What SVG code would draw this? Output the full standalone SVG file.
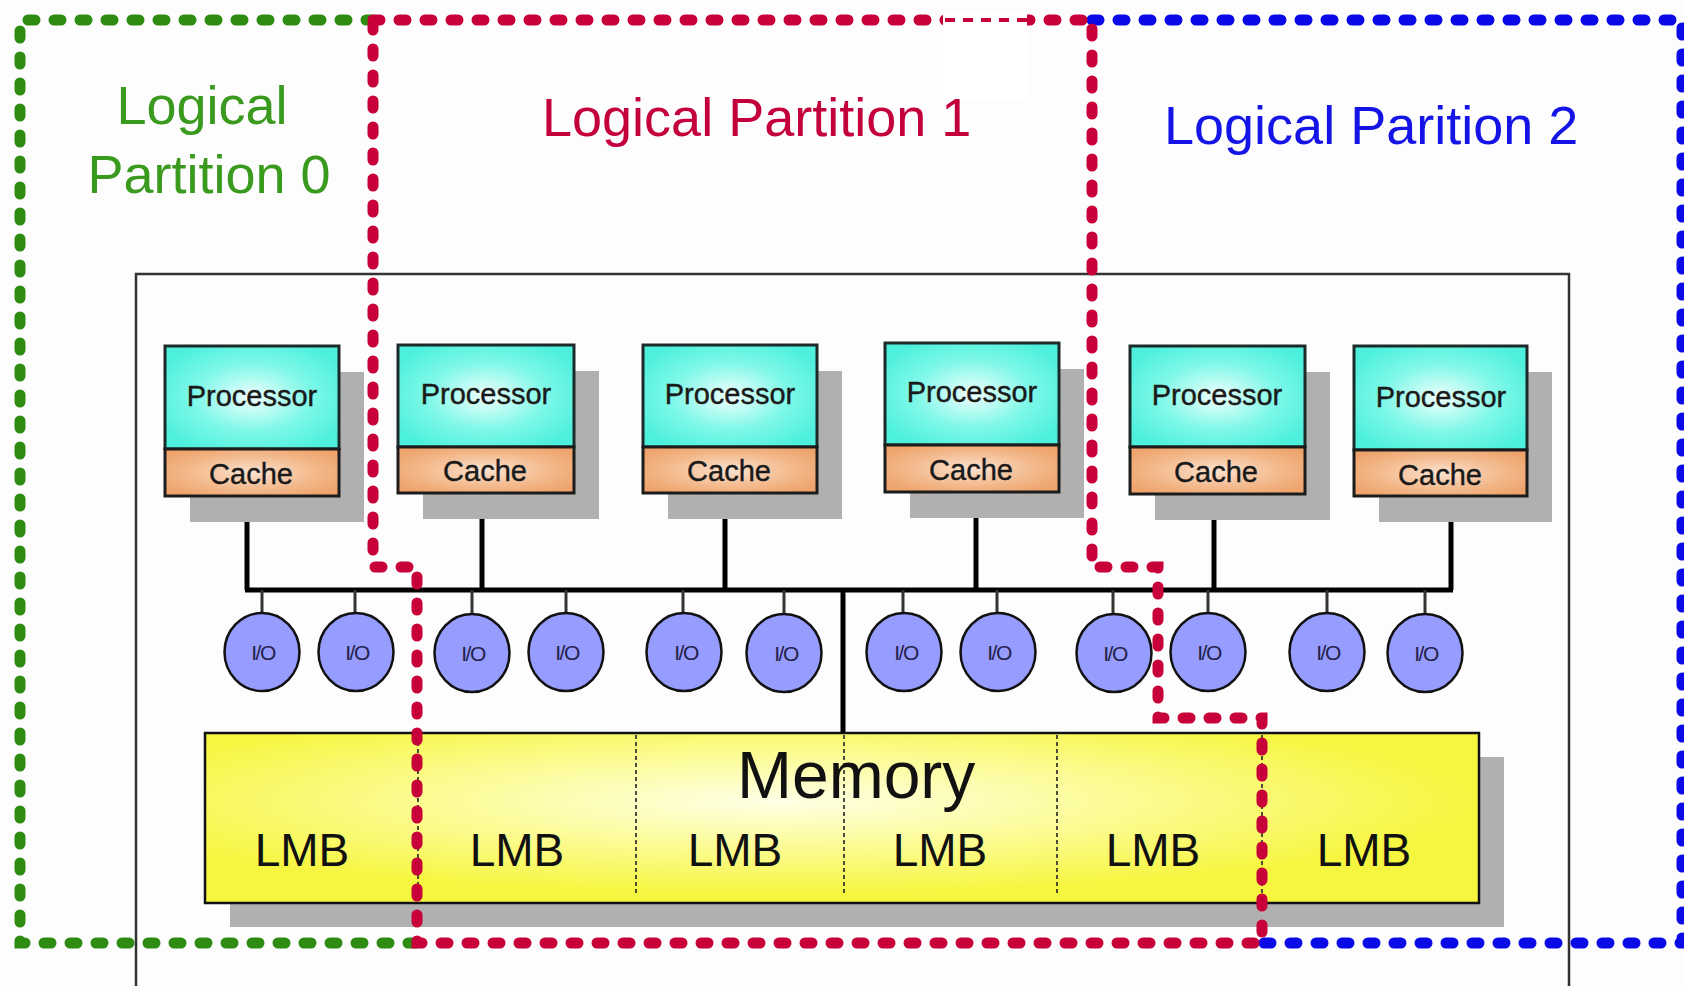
<svg xmlns="http://www.w3.org/2000/svg" width="1684" height="986" viewBox="0 0 1684 986">
<defs>
<radialGradient id="gProc" cx="0.5" cy="0.5" r="0.6">
<stop offset="0" stop-color="#f0fffc"/>
<stop offset="0.55" stop-color="#7ff8e8"/>
<stop offset="1" stop-color="#4cf0dc"/>
</radialGradient>
<radialGradient id="gCache" cx="0.5" cy="0.5" r="0.6">
<stop offset="0" stop-color="#fbe2cf"/>
<stop offset="0.6" stop-color="#f3b98c"/>
<stop offset="1" stop-color="#eea46c"/>
</radialGradient>
<radialGradient id="gMem" cx="0.45" cy="0.4" r="0.55">
<stop offset="0" stop-color="#ffffe6"/>
<stop offset="0.45" stop-color="#fcfc9c"/>
<stop offset="1" stop-color="#f6f640"/>
</radialGradient>
<style>
.sans{font-family:"Liberation Sans",Arial,"DejaVu Sans",sans-serif}
.shadow{fill:#b0b0b0}
.proc{fill:url(#gProc);stroke:#1c2a2a;stroke-width:3}
.cache{fill:url(#gCache);stroke:#1c1c1c;stroke-width:3}
.ptext{font-family:"Liberation Sans",Arial,sans-serif;font-size:29px;fill:#1a1a1a;text-anchor:middle;stroke:#1a1a1a;stroke-width:0.4}
.io{fill:#979cff;stroke:#111;stroke-width:2.5}
.iotext{font-family:"Liberation Sans",Arial,sans-serif;font-size:21px;letter-spacing:-1.5px;fill:#22224a;text-anchor:middle}
.wire{stroke:#000;stroke-width:5;fill:none}
.stub{stroke:#333;stroke-width:3;fill:none}
.lmb{font-family:"Liberation Sans",Arial,sans-serif;font-size:46px;fill:#111;text-anchor:middle}
.div{stroke:#222;stroke-width:1.6;stroke-dasharray:4 3;fill:none}
.dot{fill:none;stroke-width:11;stroke-linecap:round;stroke-dasharray:7 19}
.title{font-family:"Liberation Sans",Arial,sans-serif;font-size:54px}
</style>
</defs>
<rect x="0" y="0" width="1684" height="986" fill="#fdfdfe"/>

<g id="system">
<rect x="136" y="274" width="1433" height="740" fill="none" stroke="#333" stroke-width="2.5"/>
</g>

<g id="memory">
<rect class="shadow" x="230" y="757" width="1274" height="170"/>
<rect x="205" y="733" width="1274" height="170" fill="url(#gMem)" stroke="#111" stroke-width="2.5"/>
<line class="div" x1="418" y1="735" x2="418" y2="893"/>
<line class="div" x1="636" y1="735" x2="636" y2="893"/>
<line class="div" x1="844" y1="735" x2="844" y2="893"/>
<line class="div" x1="1057" y1="735" x2="1057" y2="893"/>
<line class="div" x1="1262" y1="735" x2="1262" y2="893"/>
<text class="sans" x="737" y="798" font-size="66" fill="#111">Memory</text>
<text class="lmb" x="302" y="866">LMB</text>
<text class="lmb" x="517" y="866">LMB</text>
<text class="lmb" x="735" y="866">LMB</text>
<text class="lmb" x="940" y="866">LMB</text>
<text class="lmb" x="1153" y="866">LMB</text>
<text class="lmb" x="1364" y="866">LMB</text>
</g>

<g id="connectors">
<line class="wire" x1="245" y1="590" x2="1453" y2="590"/>
<line class="wire" x1="247" y1="494" x2="247" y2="590"/>
<line class="wire" x1="482" y1="492" x2="482" y2="590"/>
<line class="wire" x1="725" y1="492" x2="725" y2="590"/>
<line class="wire" x1="976" y1="490" x2="976" y2="590"/>
<line class="wire" x1="1214" y1="492" x2="1214" y2="590"/>
<line class="wire" x1="1451" y1="494" x2="1451" y2="590"/>
<line class="wire" x1="843" y1="590" x2="843" y2="733"/>
<line class="stub" x1="262" y1="590" x2="262" y2="613"/>
<line class="stub" x1="355" y1="590" x2="355" y2="613"/>
<line class="stub" x1="472" y1="590" x2="472" y2="613"/>
<line class="stub" x1="566" y1="590" x2="566" y2="613"/>
<line class="stub" x1="683" y1="590" x2="683" y2="613"/>
<line class="stub" x1="784" y1="590" x2="784" y2="613"/>
<line class="stub" x1="903" y1="590" x2="903" y2="613"/>
<line class="stub" x1="997" y1="590" x2="997" y2="613"/>
<line class="stub" x1="1113" y1="590" x2="1113" y2="613"/>
<line class="stub" x1="1208" y1="590" x2="1208" y2="613"/>
<line class="stub" x1="1327" y1="590" x2="1327" y2="613"/>
<line class="stub" x1="1425" y1="590" x2="1425" y2="613"/>
</g>

<g id="p1" transform="translate(165,346)">
<rect class="shadow" x="25" y="26" width="174" height="150"/>
<rect class="proc" x="0" y="0" width="174" height="103"/>
<rect class="cache" x="0" y="103" width="174" height="47"/>
<text class="ptext" x="87" y="60">Processor</text>
<text class="ptext" x="86" y="138">Cache</text>
</g>
<g id="p2" transform="translate(398,345)">
<rect class="shadow" x="25" y="26" width="176" height="148"/>
<rect class="proc" x="0" y="0" width="176" height="102"/>
<rect class="cache" x="0" y="102" width="176" height="46"/>
<text class="ptext" x="88" y="59">Processor</text>
<text class="ptext" x="87" y="136">Cache</text>
</g>
<g id="p3" transform="translate(643,345)">
<rect class="shadow" x="25" y="26" width="174" height="148"/>
<rect class="proc" x="0" y="0" width="174" height="102"/>
<rect class="cache" x="0" y="102" width="174" height="46"/>
<text class="ptext" x="87" y="59">Processor</text>
<text class="ptext" x="86" y="136">Cache</text>
</g>
<g id="p4" transform="translate(885,343)">
<rect class="shadow" x="25" y="26" width="174" height="149"/>
<rect class="proc" x="0" y="0" width="174" height="102"/>
<rect class="cache" x="0" y="102" width="174" height="47"/>
<text class="ptext" x="87" y="59">Processor</text>
<text class="ptext" x="86" y="137">Cache</text>
</g>
<g id="p5" transform="translate(1130,346)">
<rect class="shadow" x="25" y="26" width="175" height="148"/>
<rect class="proc" x="0" y="0" width="175" height="101"/>
<rect class="cache" x="0" y="101" width="175" height="47"/>
<text class="ptext" x="87" y="59">Processor</text>
<text class="ptext" x="86" y="136">Cache</text>
</g>
<g id="p6" transform="translate(1354,346)">
<rect class="shadow" x="25" y="26" width="173" height="150"/>
<rect class="proc" x="0" y="0" width="173" height="104"/>
<rect class="cache" x="0" y="104" width="173" height="46"/>
<text class="ptext" x="87" y="61">Processor</text>
<text class="ptext" x="86" y="139">Cache</text>
</g>

<g id="io1"><ellipse class="io" cx="262" cy="652" rx="37.5" ry="39"/><text class="iotext" x="263" y="660">I/O</text></g>
<g id="io2"><ellipse class="io" cx="356" cy="652" rx="37.5" ry="39"/><text class="iotext" x="357" y="660">I/O</text></g>
<g id="io3"><ellipse class="io" cx="472" cy="653" rx="37.5" ry="39"/><text class="iotext" x="473" y="661">I/O</text></g>
<g id="io4"><ellipse class="io" cx="566" cy="652" rx="37.5" ry="39"/><text class="iotext" x="567" y="660">I/O</text></g>
<g id="io5"><ellipse class="io" cx="684" cy="652" rx="37.5" ry="39"/><text class="iotext" x="686" y="660">I/O</text></g>
<g id="io6"><ellipse class="io" cx="784" cy="653" rx="37.5" ry="39"/><text class="iotext" x="786" y="661">I/O</text></g>
<g id="io7"><ellipse class="io" cx="904" cy="652" rx="37.5" ry="39"/><text class="iotext" x="906" y="660">I/O</text></g>
<g id="io8"><ellipse class="io" cx="998" cy="652" rx="37.5" ry="39"/><text class="iotext" x="999" y="660">I/O</text></g>
<g id="io9"><ellipse class="io" cx="1114" cy="653" rx="37.5" ry="39"/><text class="iotext" x="1115" y="661">I/O</text></g>
<g id="io10"><ellipse class="io" cx="1208" cy="652" rx="37.5" ry="39"/><text class="iotext" x="1209" y="660">I/O</text></g>
<g id="io11"><ellipse class="io" cx="1327" cy="652" rx="37.5" ry="39"/><text class="iotext" x="1328" y="660">I/O</text></g>
<g id="io12"><ellipse class="io" cx="1425" cy="653" rx="37.5" ry="39"/><text class="iotext" x="1426" y="661">I/O</text></g>

<g id="partition0">
<path class="dot" stroke="#2e8c12" d="M373 20 H20 V943 H417"/>
<text class="title" x="202" y="124" fill="#3a9a1e" text-anchor="middle">Logical</text>
<text class="title" x="209" y="193" fill="#3a9a1e" text-anchor="middle">Partition 0</text>
</g>
<g id="partition2">
<path class="dot" stroke="#0a0ae6" d="M1092 20 H1682 V943 H1262"/>
<text class="title" x="1164" y="144" fill="#1414e6">Logical Parition 2</text>
</g>
<g id="partition1">
<path class="dot" stroke="#c8003a" d="M373 20 H1092 V567 H1158 V718 H1262 V943 H417 V567 H373 Z"/>
<rect x="943" y="12" width="84" height="88" fill="#ffffff"/>
<line x1="945" y1="20" x2="1027" y2="20" stroke="#c8003a" stroke-width="4" stroke-dasharray="10 8"/>
<text class="title" x="542" y="136" fill="#c4003c">Logical Partition 1</text>
</g>
</svg>
